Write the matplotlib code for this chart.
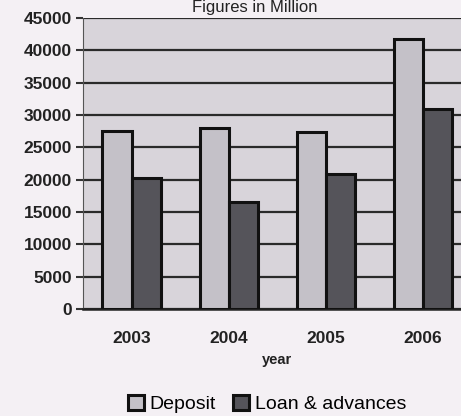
import matplotlib.pyplot as plt
import numpy as np

YEARS = ["2003", "2004", "2005", "2006"]
DEPOSIT = [27500, 28000, 27300, 41700]
LOAN = [20200, 16500, 20800, 31000]
Y_TICKS = list(range(0, 45001, 5000))

x = np.arange(len(YEARS))
BAR_W = 0.3

fig = plt.figure(figsize=(4.61, 4.16), dpi=100)
fig.patch.set_facecolor("#f4f0f4")
ax = fig.add_axes([83 / 461, 1 - 309 / 416, 388.5 / 461, 291 / 416])
ax.set_facecolor("#d8d4da")

ax.bar(x - BAR_W / 2, DEPOSIT, BAR_W, color="#c4c1c8", edgecolor="#111111",
       linewidth=2.2, label="Deposit", zorder=3)
ax.bar(x + BAR_W / 2, LOAN, BAR_W, color="#55545a", edgecolor="#111111",
       linewidth=2.2, label="Loan & advances", zorder=3)

ax.set_xlim(-0.5, 3.5)
ax.set_ylim(0, 45000)
ax.set_yticks(Y_TICKS)
ax.set_yticklabels([str(t) for t in Y_TICKS], fontsize=12.5, fontweight="bold",
                   family="Liberation Sans", color="#222222")
ax.set_xticks(x)
ax.set_xticklabels(YEARS, fontsize=12.5, fontweight="bold",
                   family="Liberation Sans", color="#222222")
ax.tick_params(axis="x", length=0, pad=16)
ax.tick_params(axis="y", length=5, width=1.5, color="#333333", pad=3)
ax.yaxis.grid(True, color="#2a2a2a", linewidth=1.6, zorder=0)
ax.set_axisbelow(True)
for side in ("top", "right"):
    ax.spines[side].set_visible(False)
ax.spines["left"].set_color("#555555")
ax.spines["bottom"].set_color("#222222")
ax.spines["bottom"].set_linewidth(1.8)

ax.set_xlabel("year", fontsize=10.5, fontweight="bold",
              family="Liberation Sans", color="#222222", labelpad=5)

fig.text(255 / 461, 1 - 12 / 416, "Figures in Million", ha="center",
         va="baseline", fontsize=12, family="Liberation Sans", color="#222222")

fig.legend(loc="center", bbox_to_anchor=(267 / 461, 1 - 404 / 416), ncol=2,
           frameon=False, handlelength=0.8, handleheight=0.8,
           handletextpad=0.3, columnspacing=0.9,
           prop={"family": "Liberation Sans", "size": 14})

fig.savefig("out.png", dpi=100, facecolor=fig.get_facecolor())
